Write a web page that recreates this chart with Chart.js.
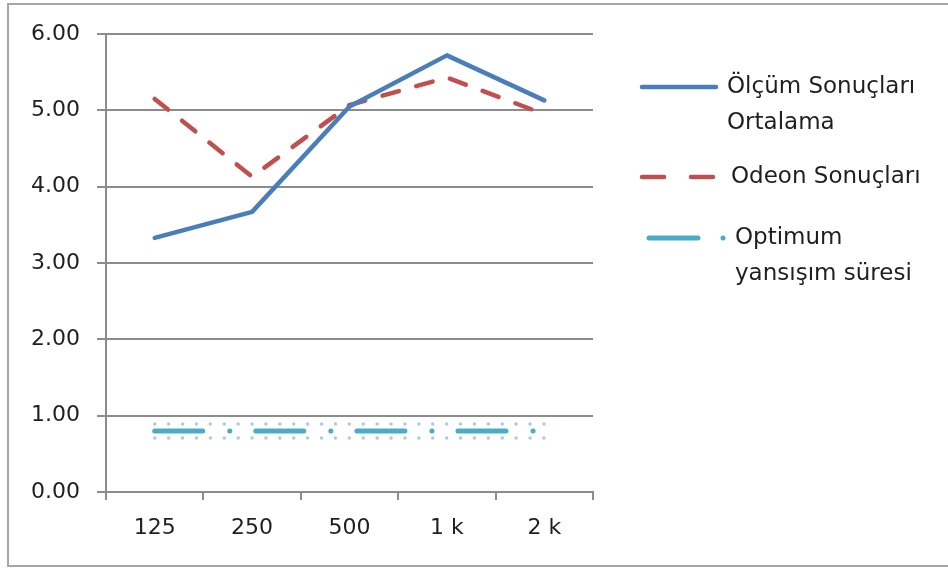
<!DOCTYPE html>
<html>
<head>
<meta charset="utf-8">
<script src="https://cdn.jsdelivr.net/npm/chart.js@4/dist/chart.umd.min.js"></script>
<style>
  html, body { margin: 0; padding: 0; background: #ffffff; }
  #wrap { width: 948px; height: 570px; position: relative; }
</style>
</head>
<body>
<div id="wrap"><canvas id="c" width="948" height="570"></canvas></div>
<script>
// Frequency bands (Hz) and reverberation times (s)
const frequencies = ['125', '250', '500', '1 k', '2 k'];
const measuredAverage = [3.33, 3.67, 5.05, 5.72, 5.13];
const odeonResults = [5.15, 4.13, 5.07, 5.43, 4.95];
const optimumTime = [0.80, 0.80, 0.80, 0.80, 0.80];
const yTicks = [0, 1, 2, 3, 4, 5, 6];

const seriesNames = [['Ölçüm Sonuçları', 'Ortalama'], ['Odeon Sonuçları'], ['Optimum', 'yansışım süresi']];

const BLUE = '#4a7ebb';
const RED = '#c0504d';
const CYAN = '#4bacc6';
const GRID = '#8c8c8c';
const TEXT = '#1f1f1f';
const FONT = '"DejaVu Sans", Verdana, sans-serif';

// Outer frame of the chart (open on the right edge)
const framePlugin = {
  id: 'frame',
  afterDraw(chart) {
    const ctx = chart.ctx;
    ctx.save();
    ctx.strokeStyle = '#a6a6a6';
    ctx.lineWidth = 2;
    ctx.strokeRect(8, 4, 950, 562);
    ctx.restore();
  }
};

// Soft dotted halo around the optimum line
const haloPlugin = {
  id: 'halo',
  beforeDatasetDraw(chart, args) {
    if (args.index !== 2) return;
    const pts = chart.getDatasetMeta(2).data;
    if (!pts.length) return;
    const ctx = chart.ctx;
    ctx.save();
    ctx.strokeStyle = 'rgba(150,190,228,0.8)';
    ctx.lineWidth = 3.5;
    ctx.lineCap = 'round';
    ctx.setLineDash([0.1, 13.8]);
    [-7, 7].forEach(off => {
      ctx.beginPath();
      ctx.moveTo(pts[0].x, pts[0].y + off);
      for (let i = 1; i < pts.length; i++) ctx.lineTo(pts[i].x, pts[i].y + off);
      ctx.stroke();
    });
    ctx.restore();
  }
};

// Legend drawn at the right of the plot, with wrapped labels
const sideLegend = {
  id: 'sideLegend',
  afterDraw(chart) {
    const ctx = chart.ctx;
    ctx.save();
    ctx.font = '23px ' + FONT;
    ctx.fillStyle = TEXT;
    ctx.textBaseline = 'middle';
    ctx.lineCap = 'round';
    const items = [
      { y: 87, color: BLUE, dash: [], from: 642, to: 716, textX: 727, dot: null },
      { y: 177, color: RED, dash: [22, 27], from: 642, to: 714, textX: 731, dot: null },
      { y: 238, color: CYAN, dash: [], from: 649, to: 698, textX: 735, dot: 723 }
    ];
    items.forEach((it, i) => {
      ctx.strokeStyle = it.color;
      ctx.lineWidth = it.dot ? 5 : 4.5;
      ctx.setLineDash(it.dash);
      ctx.beginPath();
      ctx.moveTo(it.from, it.y);
      ctx.lineTo(it.to, it.y);
      ctx.stroke();
      if (it.dot) {
        ctx.setLineDash([]);
        ctx.fillStyle = it.color;
        ctx.beginPath();
        ctx.arc(it.dot, it.y, 2.5, 0, Math.PI * 2);
        ctx.fill();
      }
      ctx.fillStyle = TEXT;
      seriesNames[i].forEach((line, j) => ctx.fillText(line, it.textX, it.y + j * 36));
    });
    ctx.restore();
  }
};

new Chart(document.getElementById('c'), {
  type: 'line',
  data: {
    labels: frequencies,
    datasets: [
      {
        label: seriesNames[0].join(' '),
        data: measuredAverage,
        borderColor: BLUE,
        borderWidth: 4.5,
        pointRadius: 0,
        tension: 0,
        borderCapStyle: 'round',
        borderJoinStyle: 'round'
      },
      {
        label: seriesNames[1].join(' '),
        data: odeonResults,
        borderColor: RED,
        borderWidth: 4.5,
        borderDash: [17, 18],
        borderCapStyle: 'round',
        pointRadius: 0,
        tension: 0
      },
      {
        label: seriesNames[2].join(' '),
        data: optimumTime,
        borderColor: CYAN,
        borderWidth: 5,
        borderDash: [48, 27, 0.1, 26],
        borderCapStyle: 'round',
        pointRadius: 0,
        tension: 0
      }
    ]
  },
  options: {
    responsive: false,
    animation: false,
    devicePixelRatio: 1,
    layout: { padding: { left: 0, top: 34, right: 355, bottom: 0 } },
    plugins: { legend: { display: false }, tooltip: { enabled: false } },
    scales: {
      x: {
        offset: true,
        grid: { display: true, drawOnChartArea: false, color: GRID, lineWidth: 2, tickLength: 8, offset: true },
        border: { color: GRID, width: 2 },
        ticks: { color: TEXT, font: { family: FONT, size: 22 }, padding: 15, maxRotation: 0 },
        afterFit(s) { s.height = 78; }
      },
      y: {
        min: 0,
        max: 6,
        afterBuildTicks(s) { s.ticks = yTicks.map(v => ({ value: v })); },
        grid: { color: GRID, lineWidth: 2, tickLength: 9 },
        border: { color: GRID, width: 2 },
        ticks: {
          color: TEXT,
          font: { family: FONT, size: 22 },
          padding: 17,
          callback: v => Number(v).toFixed(2)
        },
        afterFit(s) { s.width = 106; }
      }
    }
  },
  plugins: [haloPlugin, sideLegend, framePlugin]
});
</script>
</body>
</html>
